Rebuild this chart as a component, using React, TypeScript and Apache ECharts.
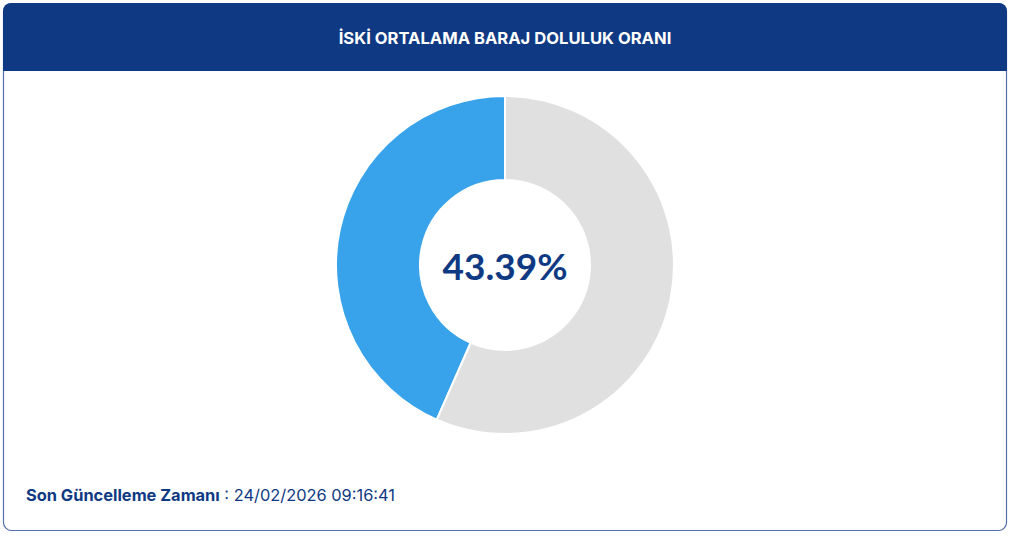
import React, { useEffect, useRef } from "react";
import * as echarts from "echarts";

const titleText = "İSKİ ORTALAMA BARAJ DOLULUK ORANI";
const categories = ["Dolu", "Boş"];
const fillPercent = 43.39;
const values = [fillPercent, +(100 - fillPercent).toFixed(2)];
const centerLabel = "43.39%";
const footerLabel = "Son Güncelleme Zamanı";
const footerValue = "24/02/2026 09:16:41";

const FONT = "Inter, 'Noto Sans', sans-serif";
const NUM_FONT = "Lato, Inter, sans-serif";

export default function App() {
  const ref = useRef<HTMLDivElement>(null);
  useEffect(() => {
    if (!ref.current) return;
    const chart = echarts.init(ref.current, undefined, { renderer: "svg" });
    chart.setOption({
      animation: false,
      backgroundColor: "#ffffff",
      graphic: [
        {
          type: "rect",
          z: 0,
          shape: { x: 3.5, y: 3.5, width: 1003, height: 527, r: 8 },
          style: { fill: "#ffffff", stroke: "#5470ab", lineWidth: 1.2 },
        },
        {
          type: "rect",
          z: 1,
          shape: { x: 3, y: 3, width: 1004, height: 68, r: [8, 8, 0, 0] },
          style: { fill: "#0f3a83" },
        },
        {
          type: "text",
          z: 2,
          x: 505,
          y: 38,
          style: {
            text: titleText,
            fill: "#ffffff",
            font: `bold 16.6px ${FONT}`,
            align: "center",
            verticalAlign: "middle",
          },
        },
        {
          type: "text",
          z: 2,
          x: 26,
          y: 495,
          style: {
            text: `{b|${footerLabel}}{n| : ${footerValue}}`,
            verticalAlign: "middle",
            rich: {
              b: { fontFamily: FONT, fontWeight: "bold", fontSize: 16.4, fill: "#0f3a83", color: "#0f3a83" },
              n: { fontFamily: FONT, fontWeight: "normal", fontSize: 16.4, fill: "#0f3a83", color: "#0f3a83" },
            },
          },
        },
      ],
      series: [
        {
          type: "pie",
          center: [505, 265],
          radius: [85, 169],
          startAngle: 90,
          clockwise: false,
          silent: true,
          itemStyle: { borderColor: "#ffffff", borderWidth: 2 },
          label: {
            show: true,
            position: "center",
            formatter: () => centerLabel,
            fontFamily: NUM_FONT,
            fontWeight: "bold",
            fontSize: 37,
            color: "#0f3a83",
          },
          labelLine: { show: false },
          emphasis: { disabled: true },
          data: categories.map((c, i) => ({
            name: c,
            value: values[i],
            itemStyle: { color: i === 0 ? "#38a3eb" : "#e0e0e0" },
            label: { show: i === 0 },
          })),
        },
      ],
    });
    return () => chart.dispose();
  }, []);
  return (
    <div
      ref={ref}
      style={{ position: "fixed", left: 0, top: 0, width: 1024, height: 537 }}
    />
  );
}
